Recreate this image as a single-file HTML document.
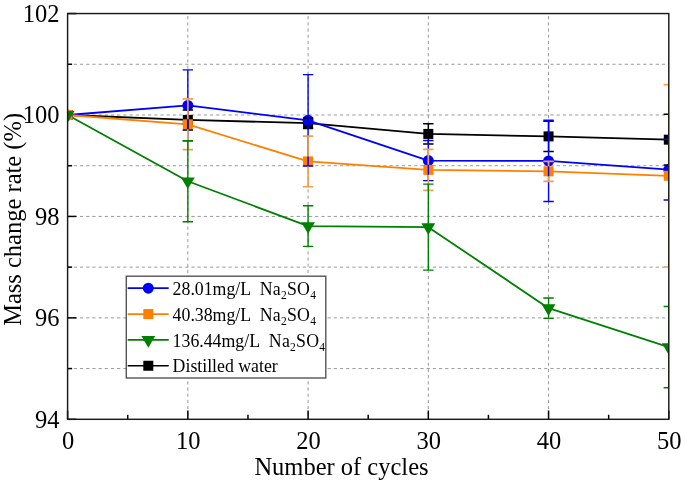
<!DOCTYPE html><html><head><meta charset="utf-8"><style>html,body{margin:0;padding:0;background:#fff;width:685px;height:485px;overflow:hidden}svg{display:block;will-change:transform}text{font-family:"Liberation Serif",serif;fill:#000}</style></head><body>
<svg width="685" height="485" viewBox="0 0 685 485">
<defs><clipPath id="pc"><rect x="67.60" y="13.55" width="601.20" height="405.75"/></clipPath></defs>
<g stroke="#9a9a9a" stroke-width="1" stroke-dasharray="3.2 2.99" fill="none"><line x1="67.60" y1="368.58" x2="668.80" y2="368.58"/><line x1="67.60" y1="317.86" x2="668.80" y2="317.86"/><line x1="67.60" y1="267.14" x2="668.80" y2="267.14"/><line x1="67.60" y1="216.43" x2="668.80" y2="216.43"/><line x1="67.60" y1="165.71" x2="668.80" y2="165.71"/><line x1="67.60" y1="114.99" x2="668.80" y2="114.99"/><line x1="67.60" y1="64.27" x2="668.80" y2="64.27"/><line x1="187.84" y1="16.05" x2="187.84" y2="419.30"/><line x1="308.08" y1="16.05" x2="308.08" y2="419.30"/><line x1="428.32" y1="16.05" x2="428.32" y2="419.30"/><line x1="548.56" y1="16.05" x2="548.56" y2="419.30"/></g>
<g stroke="#000" stroke-width="1.5"><line x1="67.60" y1="419.30" x2="76.40" y2="419.30"/><line x1="67.60" y1="368.58" x2="72.10" y2="368.58"/><line x1="67.60" y1="317.86" x2="76.40" y2="317.86"/><line x1="67.60" y1="267.14" x2="72.10" y2="267.14"/><line x1="67.60" y1="216.43" x2="76.40" y2="216.43"/><line x1="67.60" y1="165.71" x2="72.10" y2="165.71"/><line x1="67.60" y1="114.99" x2="76.40" y2="114.99"/><line x1="67.60" y1="64.27" x2="72.10" y2="64.27"/><line x1="67.60" y1="13.55" x2="76.40" y2="13.55"/><line x1="67.60" y1="419.30" x2="67.60" y2="410.50"/><line x1="127.72" y1="419.30" x2="127.72" y2="414.80"/><line x1="187.84" y1="419.30" x2="187.84" y2="410.50"/><line x1="247.96" y1="419.30" x2="247.96" y2="414.80"/><line x1="308.08" y1="419.30" x2="308.08" y2="410.50"/><line x1="368.20" y1="419.30" x2="368.20" y2="414.80"/><line x1="428.32" y1="419.30" x2="428.32" y2="410.50"/><line x1="488.44" y1="419.30" x2="488.44" y2="414.80"/><line x1="548.56" y1="419.30" x2="548.56" y2="410.50"/><line x1="608.68" y1="419.30" x2="608.68" y2="414.80"/><line x1="668.80" y1="419.30" x2="668.80" y2="410.50"/></g>
<g clip-path="url(#pc)"><polyline points="67.60,114.99 187.84,119.91 308.08,123.15 428.32,133.91 548.56,136.39 668.80,139.69" fill="none" stroke="#000000" stroke-width="1.8" stroke-linejoin="round"/><polyline points="67.60,114.99 187.84,105.40 308.08,120.31 428.32,160.58 548.56,160.89 668.80,169.61" fill="none" stroke="#0000FF" stroke-width="1.8" stroke-linejoin="round"/><polyline points="67.60,114.99 187.84,124.32 308.08,161.40 428.32,169.87 548.56,171.34 668.80,175.80" fill="none" stroke="#FF8000" stroke-width="1.8" stroke-linejoin="round"/><polyline points="67.60,114.99 187.84,181.28 308.08,226.06 428.32,227.13 548.56,308.18 668.80,347.13" fill="none" stroke="#008000" stroke-width="1.8" stroke-linejoin="round"/><rect x="62.60" y="109.99" width="10.00" height="10.00" fill="#000000"/><rect x="182.84" y="114.91" width="10.00" height="10.00" fill="#000000"/><rect x="303.08" y="118.15" width="10.00" height="10.00" fill="#000000"/><rect x="423.32" y="128.91" width="10.00" height="10.00" fill="#000000"/><rect x="543.56" y="131.39" width="10.00" height="10.00" fill="#000000"/><rect x="663.80" y="134.69" width="10.00" height="10.00" fill="#000000"/><circle cx="67.60" cy="114.99" r="5.50" fill="#0000FF"/><circle cx="187.84" cy="105.40" r="5.50" fill="#0000FF"/><circle cx="308.08" cy="120.31" r="5.50" fill="#0000FF"/><circle cx="428.32" cy="160.58" r="5.50" fill="#0000FF"/><circle cx="548.56" cy="160.89" r="5.50" fill="#0000FF"/><circle cx="668.80" cy="169.61" r="5.50" fill="#0000FF"/><rect x="62.60" y="109.99" width="10.00" height="10.00" fill="#FF8000"/><rect x="182.84" y="119.32" width="10.00" height="10.00" fill="#FF8000"/><rect x="303.08" y="156.40" width="10.00" height="10.00" fill="#FF8000"/><rect x="423.32" y="164.87" width="10.00" height="10.00" fill="#FF8000"/><rect x="543.56" y="166.34" width="10.00" height="10.00" fill="#FF8000"/><rect x="663.80" y="170.80" width="10.00" height="10.00" fill="#FF8000"/><polygon points="60.70,111.09 74.50,111.09 67.60,122.79" fill="#008000"/><polygon points="180.94,177.38 194.74,177.38 187.84,189.08" fill="#008000"/><polygon points="301.18,222.16 314.98,222.16 308.08,233.86" fill="#008000"/><polygon points="421.42,223.23 435.22,223.23 428.32,234.93" fill="#008000"/><polygon points="541.66,304.28 555.46,304.28 548.56,315.98" fill="#008000"/><polygon points="661.90,343.23 675.70,343.23 668.80,354.93" fill="#008000"/><path d="M187.84,109.92V129.90M182.64,109.92H193.04M182.64,129.90H193.04" stroke="#000000" stroke-width="1.5" fill="none"/><path d="M308.08,117.88V128.43M302.88,117.88H313.28M302.88,128.43H313.28" stroke="#000000" stroke-width="1.5" fill="none"/><path d="M428.32,123.76V144.05M423.12,123.76H433.52M423.12,144.05H433.52" stroke="#000000" stroke-width="1.5" fill="none"/><path d="M548.56,121.18V151.61M543.36,121.18H553.76M543.36,151.61H553.76" stroke="#000000" stroke-width="1.5" fill="none"/><path d="M668.80,114.33V165.05M663.60,114.33H674.00M663.60,165.05H674.00" stroke="#000000" stroke-width="1.5" fill="none"/><path d="M187.84,69.90V140.90M182.64,69.90H193.04M182.64,140.90H193.04" stroke="#0000FF" stroke-width="1.4" fill="none"/><path d="M308.08,74.67V165.96M302.88,74.67H313.28M302.88,165.96H313.28" stroke="#0000FF" stroke-width="1.4" fill="none"/><path d="M428.32,140.55V180.62M423.12,140.55H433.52M423.12,180.62H433.52" stroke="#0000FF" stroke-width="1.4" fill="none"/><path d="M548.56,120.31V201.46M543.36,120.31H553.76M543.36,201.46H553.76" stroke="#0000FF" stroke-width="1.4" fill="none"/><path d="M668.80,139.18V200.04M663.60,139.18H674.00M663.60,200.04H674.00" stroke="#0000FF" stroke-width="1.4" fill="none"/><path d="M187.84,98.96V119.32M187.84,129.32V149.68M182.64,98.96H193.04M182.64,149.68H193.04" stroke="#F0A050" stroke-width="1.7" fill="none"/><path d="M308.08,136.04V156.40M308.08,166.40V186.75M302.88,136.04H313.28M302.88,186.75H313.28" stroke="#F0A050" stroke-width="1.7" fill="none"/><path d="M428.32,149.43V164.87M428.32,174.87V190.30M423.12,149.43H433.52M423.12,190.30H433.52" stroke="#F0A050" stroke-width="1.7" fill="none"/><path d="M548.56,161.29V166.34M548.56,176.34V181.38M543.36,161.29H553.76M543.36,181.38H553.76" stroke="#F0A050" stroke-width="1.7" fill="none"/><path d="M668.80,84.61V170.80M668.80,180.80V266.99M663.60,84.61H674.00M663.60,266.99H674.00" stroke="#F0A050" stroke-width="1.7" fill="none"/><path d="M187.84,140.80V221.75M182.64,140.80H193.04M182.64,221.75H193.04" stroke="#008000" stroke-width="1.4" fill="none"/><path d="M308.08,205.77V246.35M302.88,205.77H313.28M302.88,246.35H313.28" stroke="#008000" stroke-width="1.4" fill="none"/><path d="M428.32,184.12V270.14M423.12,184.12H433.52M423.12,270.14H433.52" stroke="#008000" stroke-width="1.4" fill="none"/><path d="M548.56,297.93V318.42M543.36,297.93H553.76M543.36,318.42H553.76" stroke="#008000" stroke-width="1.4" fill="none"/><path d="M668.80,306.55V387.70M663.60,306.55H674.00M663.60,387.70H674.00" stroke="#008000" stroke-width="1.4" fill="none"/></g>
<rect x="67.60" y="13.55" width="601.20" height="405.75" fill="none" stroke="#1a1a1a" stroke-width="1.45"/>
<text x="59.6" y="427.60" font-size="24.5" text-anchor="end">94</text>
<text x="59.6" y="326.16" font-size="24.5" text-anchor="end">96</text>
<text x="59.6" y="224.73" font-size="24.5" text-anchor="end">98</text>
<text x="59.6" y="123.29" font-size="24.5" text-anchor="end">100</text>
<text x="59.6" y="21.85" font-size="24.5" text-anchor="end">102</text>
<text x="68.10" y="448.6" font-size="24.5" text-anchor="middle">0</text>
<text x="188.34" y="448.6" font-size="24.5" text-anchor="middle">10</text>
<text x="308.58" y="448.6" font-size="24.5" text-anchor="middle">20</text>
<text x="428.82" y="448.6" font-size="24.5" text-anchor="middle">30</text>
<text x="549.06" y="448.6" font-size="24.5" text-anchor="middle">40</text>
<text x="669.30" y="448.6" font-size="24.5" text-anchor="middle">50</text>
<text x="341.5" y="474.5" font-size="24.5" text-anchor="middle">Number of cycles</text>
<text transform="translate(20.7,219.4) rotate(-90)" x="0" y="0" font-size="24.5" text-anchor="middle">Mass change rate (%)</text>
<rect x="126.3" y="276.2" width="199.50" height="101.80" fill="#fff" stroke="#555" stroke-width="1.4"/>
<line x1="127.7" y1="288.20" x2="168.7" y2="288.20" stroke="#0000FF" stroke-width="1.7"/>
<circle cx="148.30" cy="288.20" r="5.50" fill="#0000FF"/>
<text x="172.6" y="294.90" font-size="17.8">28.01mg/L</text>
<text x="259.70" y="294.90" font-size="17.8" letter-spacing="0.25">Na<tspan font-size="11.5" dy="4.5">2</tspan><tspan dy="-4.5">SO</tspan><tspan font-size="11.5" dy="4.5">4</tspan></text>
<line x1="127.7" y1="314.05" x2="168.7" y2="314.05" stroke="#FF8000" stroke-width="1.7"/>
<rect x="143.30" y="309.05" width="10.00" height="10.00" fill="#FF8000"/>
<text x="172.6" y="320.75" font-size="17.8">40.38mg/L</text>
<text x="259.70" y="320.75" font-size="17.8" letter-spacing="0.25">Na<tspan font-size="11.5" dy="4.5">2</tspan><tspan dy="-4.5">SO</tspan><tspan font-size="11.5" dy="4.5">4</tspan></text>
<line x1="127.7" y1="339.90" x2="168.7" y2="339.90" stroke="#008000" stroke-width="1.7"/>
<polygon points="141.40,336.00 155.20,336.00 148.30,347.70" fill="#008000"/>
<text x="172.6" y="346.60" font-size="17.8">136.44mg/L</text>
<text x="268.80" y="346.60" font-size="17.8" letter-spacing="0.25">Na<tspan font-size="11.5" dy="4.5">2</tspan><tspan dy="-4.5">SO</tspan><tspan font-size="11.5" dy="4.5">4</tspan></text>
<line x1="127.7" y1="365.75" x2="168.7" y2="365.75" stroke="#000000" stroke-width="1.7"/>
<rect x="143.30" y="360.75" width="10.00" height="10.00" fill="#000000"/>
<text x="172.6" y="372.45" font-size="17.8">Distilled water</text>
</svg></body></html>
